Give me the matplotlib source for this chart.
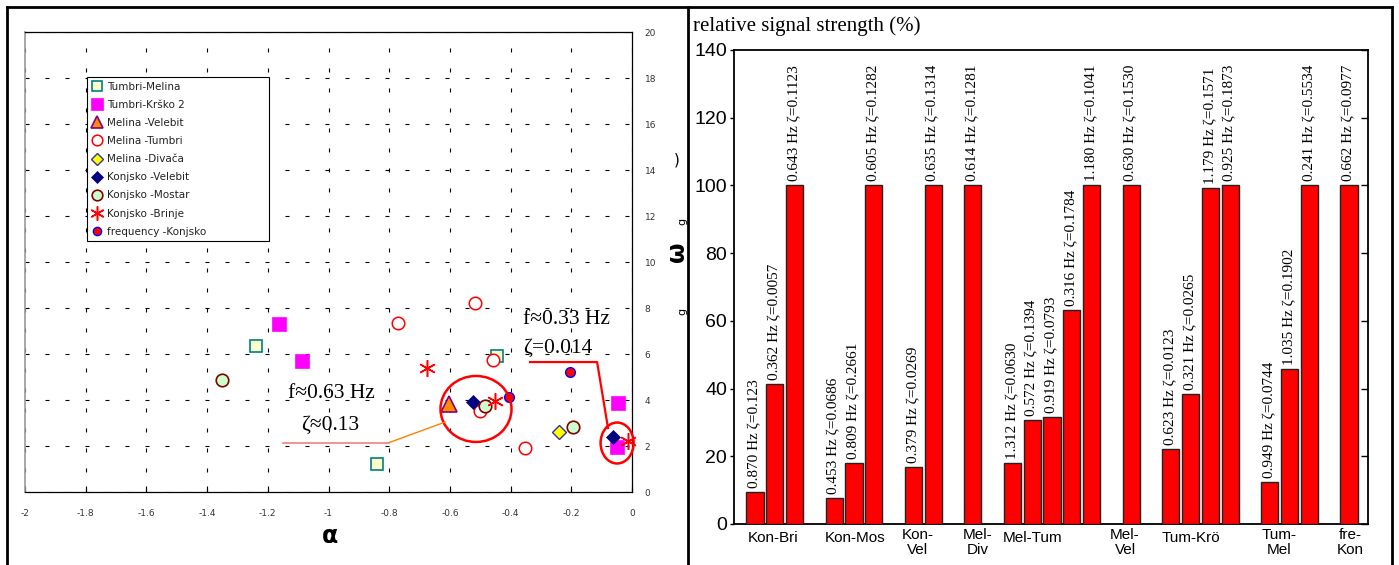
import matplotlib
matplotlib.use("Agg")
import matplotlib.pyplot as plt
from matplotlib.patches import Ellipse
from matplotlib.lines import Line2D
import matplotlib.transforms as mtrans

# ---------------- data: left panel (alpha, omega) ----------------
tm_a = [-1.239, -0.840, -0.445]; tm_w = [6.35, 1.22, 5.90]                 # Tumbri-Melina
tk_a = [-1.163, -1.087, -0.046, -0.049]; tk_w = [7.30, 5.70, 3.87, 1.96]    # Tumbri-Krško 2
mv_a = [-0.603]; mv_w = [3.83]                                              # Melina-Velebit
mt_a = [-0.771, -0.517, -0.458, -0.501, -0.353]; mt_w = [7.35, 8.22, 5.74, 3.52, 1.91]  # Melina-Tumbri
md_a = [-0.240]; md_w = [2.61]                                              # Melina-Divača
kv_a = [-0.524, -0.063]; kv_w = [3.91, 2.39]                                # Konjsko-Velebit
km_a = [-1.351, -0.484, -0.194]; km_w = [4.87, 3.74, 2.83]                  # Konjsko-Mostar
kb_a = [-0.675, -0.451, -0.013]; kb_w = [5.39, 3.96, 2.22]                  # Konjsko-Brinje
fk_a = [-0.405, -0.204]; fk_w = [4.13, 5.22]                                # frequency-Konjsko

x_tick_vals = [-2, -1.8, -1.6, -1.4, -1.2, -1, -0.8, -0.6, -0.4, -0.2, 0]
x_tick_labels = ["-2", "-1.8", "-1.6", "-1.4", "-1.2", "-1", "-0.8", "-0.6", "-0.4", "-0.2", "0"]
y_tick_vals = [0, 2, 4, 6, 8, 10, 12, 14, 16, 18, 20]

# ---------------- data: right panel (relative signal strength) ----------------
groups = ["Kon-Bri", "Kon-Mos", "Kon-\nVel", "Mel-\nDiv", "Mel-Tum",
          "Mel-\nVel", "Tum-Krö", "Tum-\nMel", "fre-\nKon"]
group_values = [
    [9.4, 41.3, 100],
    [7.7, 18.0, 100],
    [16.8, 100],
    [100],
    [18.0, 30.7, 31.6, 63.2, 100],
    [100],
    [22.1, 38.4, 99.3, 100],
    [12.4, 45.8, 100],
    [100],
]
group_bar_labels = [
    ["0.870 Hz ζ=0.123", "0.362 Hz ζ=0.0057", "0.643 Hz ζ=0.1123"],
    ["0.453 Hz ζ=0.0686", "0.809 Hz ζ=0.2661", "0.605 Hz ζ=0.1282"],
    ["0.379 Hz ζ=0.0269", "0.635 Hz ζ=0.1314"],
    ["0.614 Hz ζ=0.1281"],
    ["1.312 Hz ζ=0.0630", "0.572 Hz ζ=0.1394", "0.919 Hz ζ=0.0793",
     "0.316 Hz ζ=0.1784", "1.180 Hz ζ=0.1041"],
    ["0.630 Hz ζ=0.1530"],
    ["0.623 Hz ζ=0.0123", "0.321 Hz ζ=0.0265", "1.179 Hz ζ=0.1571", "0.925 Hz ζ=0.1873"],
    ["0.949 Hz ζ=0.0744", "1.035 Hz ζ=0.1902", "0.241 Hz ζ=0.5534"],
    ["0.662 Hz ζ=0.0977"],
]
y_ticks_right = [0, 20, 40, 60, 80, 100, 120, 140]

# layout: category label offsets (in bar slots) from group centre
label_offsets = [-0.09, 0.05, -0.27, 0.26, -0.96, -0.31, -0.48, -0.54, 0.05]

W, H = 1399, 565
fig = plt.figure(figsize=(W / 100, H / 100), dpi=100)


def fx(px):
    return px / W


def fy(py):
    return 1 - py / H


SERIF = ["Liberation Serif", "DejaVu Serif"]
SANS = ["Liberation Sans", "DejaVu Sans"]

# ================= LEFT PANEL =================
axL = fig.add_axes([fx(25), fy(492), fx(632) - fx(25), fy(32) - fy(492)])
axL.set_xlim(-2, 0)
axL.set_ylim(0, 20)

series = [
    (tm_a, tm_w, "Tumbri-Melina", dict(marker="s", ms=9, mfc="#FFFFCC", mec="#008080", mew=1.2)),
    (tk_a, tk_w, "Tumbri-Krško 2", dict(marker="s", ms=9.5, mfc="#FF00FF", mec="#FF00FF", mew=0.5)),
    (mv_a, mv_w, "Melina -Velebit", dict(marker="^", ms=11, mfc="#FF8C00", mec="#800080", mew=1.2)),
    (mt_a, mt_w, "Melina -Tumbri", dict(marker="o", ms=9, mfc="white", mec="#FF0000", mew=1.1)),
    (md_a, md_w, "Melina -Divača", dict(marker="D", ms=7.5, mfc="#FFFF00", mec="#333399", mew=1.0)),
    (kv_a, kv_w, "Konjsko -Velebit", dict(marker="D", ms=7.5, mfc="#000080", mec="#000080", mew=0.5)),
    (km_a, km_w, "Konjsko -Mostar", dict(marker="o", ms=9, mfc="#CCFFCC", mec="#800000", mew=1.2)),
    (kb_a, kb_w, "Konjsko -Brinje", dict(marker=(6, 2, 0), ms=12, mfc="#FF0000", mec="#FF0000", mew=1.1)),
    (fk_a, fk_w, "frequency -Konjsko", dict(marker="o", ms=7, mfc="#FF0000", mec="#0000FF", mew=1.0)),
]
handles = []
for a, w, lab, st in series:
    h, = axL.plot(a, w, linestyle="none", label=lab, zorder=4, clip_on=False, **st)
    handles.append(h)

axL.set_xticks(x_tick_vals)
axL.set_xticklabels(x_tick_labels)
axL.set_yticks(y_tick_vals)
axL.yaxis.tick_right()
axL.tick_params(axis="x", direction="in", length=4, width=0.8, labelsize=6.5,
                labelcolor="#333333", pad=12)
axL.tick_params(axis="y", length=0, labelsize=6.5, labelcolor="#333333", pad=9)
for lab in axL.get_xticklabels() + axL.get_yticklabels():
    lab.set_family("DejaVu Sans")
axL.grid(True, linestyle=(0, (3.6, 14.4)), color="black", linewidth=0.8)
axL.set_axisbelow(True)
axL.spines["left"].set_color("#999999")
axL.spines["left"].set_linewidth(1.2)
for s in ["top", "right", "bottom"]:
    axL.spines[s].set_color("black")
    axL.spines[s].set_linewidth(0.9)

leg = axL.legend(handles=handles, loc="upper left",
                 bbox_to_anchor=(fx(87), fy(262), fx(269) - fx(87), fy(77) - fy(262)),
                 bbox_transform=fig.transFigure, mode="expand",
                 frameon=True, fancybox=False, edgecolor="black", framealpha=1,
                 prop={"family": "DejaVu Sans", "size": 7.5},
                 labelspacing=0.78, handlelength=1.0, handletextpad=0.5,
                 borderpad=0.45, borderaxespad=0, markerscale=0.85)
leg.get_frame().set_linewidth(0.8)
for t in leg.get_texts():
    t.set_color("#222222")

# annotations (circles + leader lines)
axL.add_patch(Ellipse((-0.514, 3.61), 0.234, 2.87, fill=False, ec="#FF0000", lw=1.8, zorder=5))
axL.add_patch(Ellipse((-0.049, 2.13), 0.109, 1.78, fill=False, ec="#FF0000", lw=1.8,
                      zorder=5, clip_on=False))
axL.plot([-1.150, -0.800], [2.13, 2.13], color="#F08080", lw=1.2, zorder=5)
axL.plot([-0.800, -0.616], [2.15, 3.04], color="#FF8000", lw=1.0, zorder=5)
axL.plot([-0.336, -0.115, -0.079], [5.65, 5.65, 2.78], color="#FF0000", lw=1.6, zorder=5,
         clip_on=False)

fig.text(fx(288), fy(393), "f≈0.63 Hz", family=SERIF, fontsize=15.5, va="center", ha="left")
fig.text(fx(301), fy(425), "ζ≈0.13", family=SERIF, fontsize=15.5, va="center", ha="left")
fig.text(fx(523), fy(320), "f≈0.33 Hz", family=SERIF, fontsize=15.5, va="center", ha="left")
fig.text(fx(523), fy(348), "ζ=0.014", family=SERIF, fontsize=15.5, va="center", ha="left")

fig.text(fx(330), fy(536), "α", fontsize=17, fontweight="bold", ha="center", va="center",
         family="DejaVu Sans")
fig.text(fx(677), fy(252), "ω", fontsize=17, fontweight="bold", ha="center", va="center",
         rotation=90, family="DejaVu Sans")
fig.text(fx(682), fy(221), "g", fontsize=8, ha="center", va="center", rotation=90,
         family="DejaVu Sans")
fig.text(fx(682), fy(311), "g", fontsize=8, ha="center", va="center", rotation=90,
         family="DejaVu Sans")
fig.text(fx(677), fy(160), ")", fontsize=11, ha="center", va="center", family="DejaVu Sans")

# ================= RIGHT PANEL =================
axR = fig.add_axes([fx(734), fy(524), fx(1368) - fx(734), fy(50) - fy(524)])

bar_x, bar_v, bar_l, grp_centres = [], [], [], []
slot = 0
for vals, labs in zip(group_values, group_bar_labels):
    xs = list(range(slot, slot + len(vals)))
    bar_x += xs
    bar_v += vals
    bar_l += labs
    grp_centres.append((xs[0] + xs[-1]) / 2)
    slot += len(vals) + 1

axR.bar(bar_x, bar_v, width=0.86, color="#FF0000", edgecolor="#222222", linewidth=1.0, zorder=3)
axR.set_xlim(-1.06, 30.96)
axR.set_ylim(0, 140)
axR.set_xticks([])
axR.set_yticks(y_ticks_right)
axR.tick_params(axis="y", direction="out", length=3, width=1, labelsize=14, pad=2)
for lab in axR.get_yticklabels():
    lab.set_family(SANS)
for s in axR.spines.values():
    s.set_linewidth(1.3)
    s.set_color("black")

twin = axR.twinx()
twin.set_ylim(0, 140)
twin.set_yticks(y_ticks_right)
twin.tick_params(axis="y", direction="in", length=5, width=1, labelright=False)
for s in twin.spines.values():
    s.set_visible(False)

for x, v, lab in zip(bar_x, bar_v, bar_l):
    axR.text(x, v + 1.2, lab, rotation=90, ha="center", va="bottom", fontsize=11,
             family=SERIF, zorder=4)

trans = mtrans.blended_transform_factory(axR.transData, axR.transAxes)
for g, c, off in zip(groups, grp_centres, label_offsets):
    two = "\n" in g
    yv = -0.039 if two else -0.0295
    axR.text(c + off, yv, g, transform=trans, ha="center", va="center", fontsize=11,
             family=SANS, linespacing=1.15)

fig.text(fx(693), fy(26), "relative signal strength (%)", family=SERIF, fontsize=15,
         ha="left", va="center")

# ================= outer frame =================
lw = 2.0
fig.add_artist(Line2D([fx(7), fx(1392)], [fy(7), fy(7)], color="black", lw=lw))
fig.add_artist(Line2D([fx(7), fx(7)], [fy(7), 0], color="black", lw=lw))
fig.add_artist(Line2D([fx(1392), fx(1392)], [fy(7), 0], color="black", lw=lw))
fig.add_artist(Line2D([fx(688), fx(688)], [fy(7), 0], color="black", lw=lw))

fig.savefig("out.png", dpi=100)
